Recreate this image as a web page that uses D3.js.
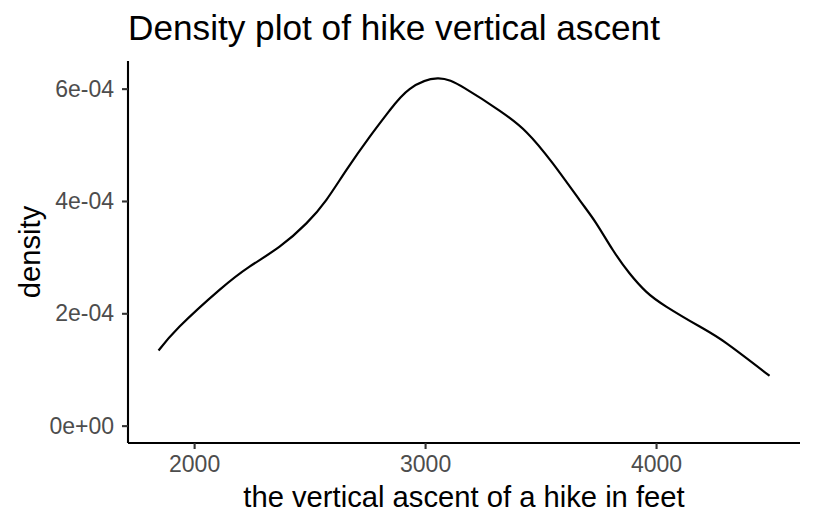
<!DOCTYPE html>
<html>
<head>
<meta charset="utf-8">
<script src="https://cdn.jsdelivr.net/npm/d3@7"></script>
<style>
  html, body { margin: 0; padding: 0; background: #fff; }
  svg { display: block; font-family: "Liberation Sans", Arial, Helvetica, sans-serif; }
</style>
</head>
<body>
<svg id="chart" width="816" height="528"></svg>
<script>
// Data (density estimate of hike vertical ascent, feet)
const ascentFeet = [1846, 1937, 2110, 2240, 2370, 2486, 2572, 2659, 2760, 2846, 2933, 3054, 3171, 3322, 3440, 3553, 3669, 3741, 3813, 3885, 3957, 4044, 4189, 4304, 4491];
const densityValues = [1.338e-4, 1.764e-4, 2.417e-4, 2.831e-4, 3.186e-4, 3.601e-4, 4.016e-4, 4.549e-4, 5.141e-4, 5.609e-4, 5.993e-4, 6.183e-4, 6.009e-4, 5.609e-4, 5.220e-4, 4.668e-4, 4.016e-4, 3.602e-4, 3.127e-4, 2.713e-4, 2.386e-4, 2.120e-4, 1.764e-4, 1.469e-4, 0.888e-4];
const xTicks = [2000, 3000, 4000];
const yTicks = [0, 2e-4, 4e-4, 6e-4];
const yTickLabels = ["0e+00", "2e-04", "4e-04", "6e-04"];
const titleText = "Density plot of hike vertical ascent";
const xTitle = "the vertical ascent of a hike in feet";
const yTitle = "density";

(function () {
const points = ascentFeet.map((x, i) => ({ x, y: densityValues[i] }));

const svg = d3.select("#chart");
const pLeft = 128, pRight = 800, pTop = 61, pBottom = 443;

// ggplot-style expansion (5% each side)
const xMin = d3.min(ascentFeet), xMax = d3.max(ascentFeet);
const xPad = (xMax - xMin) * 0.05;
const x = d3.scaleLinear().domain([xMin - xPad, xMax + xPad]).range([pLeft, pRight]);
const yMax = d3.max(densityValues);
const yPad = yMax * 0.05;
const y = d3.scaleLinear().domain([-yPad, yMax + yPad]).range([pBottom, pTop]);

// curve
const line = d3.line().x(d => x(d.x)).y(d => y(d.y)).curve(d3.curveNatural);
svg.append("path")
  .datum(points)
  .attr("d", line)
  .attr("fill", "none")
  .attr("stroke", "#000")
  .attr("stroke-width", 2.2)
  .attr("stroke-linejoin", "round");

// x axis
const xAxis = d3.axisBottom(x).tickValues(xTicks).tickSize(6).tickPadding(7).tickFormat(d3.format("d"));
const gx = svg.append("g").attr("transform", `translate(0,${pBottom})`).call(xAxis);
gx.select(".domain").attr("d", `M${pLeft},0H${pRight}`).attr("stroke", "#000").attr("stroke-width", 2.1);
gx.selectAll(".tick line").attr("stroke", "#333").attr("stroke-width", 2.1);
gx.selectAll(".tick text").attr("fill", "#4d4d4d").attr("font-size", 23).attr("font-family", "Liberation Sans, Arial, sans-serif");

// y axis
const yAxis = d3.axisLeft(y).tickValues(yTicks).tickSize(6).tickPadding(8).tickFormat((d, i) => yTickLabels[i]);
const gy = svg.append("g").attr("transform", `translate(${pLeft},0)`).call(yAxis);
gy.select(".domain").attr("d", `M0,${pTop}V${pBottom}`).attr("stroke", "#000").attr("stroke-width", 2.1);
gy.selectAll(".tick line").attr("stroke", "#333").attr("stroke-width", 2.1);
gy.selectAll(".tick text").attr("fill", "#4d4d4d").attr("font-size", 23).attr("font-family", "Liberation Sans, Arial, sans-serif");

// titles
svg.append("text")
  .attr("x", pLeft).attr("y", 40)
  .attr("font-size", 35.2)
  .attr("fill", "#000")
  .text(titleText);

svg.append("text")
  .attr("x", (pLeft + pRight) / 2).attr("y", 507)
  .attr("text-anchor", "middle")
  .attr("font-size", 29.2)
  .attr("fill", "#000")
  .text(xTitle);

svg.append("text")
  .attr("transform", `translate(40,${(pTop + pBottom) / 2}) rotate(-90)`)
  .attr("text-anchor", "middle")
  .attr("font-size", 29.2)
  .attr("fill", "#000")
  .text(yTitle);
})();
</script>
</body>
</html>
